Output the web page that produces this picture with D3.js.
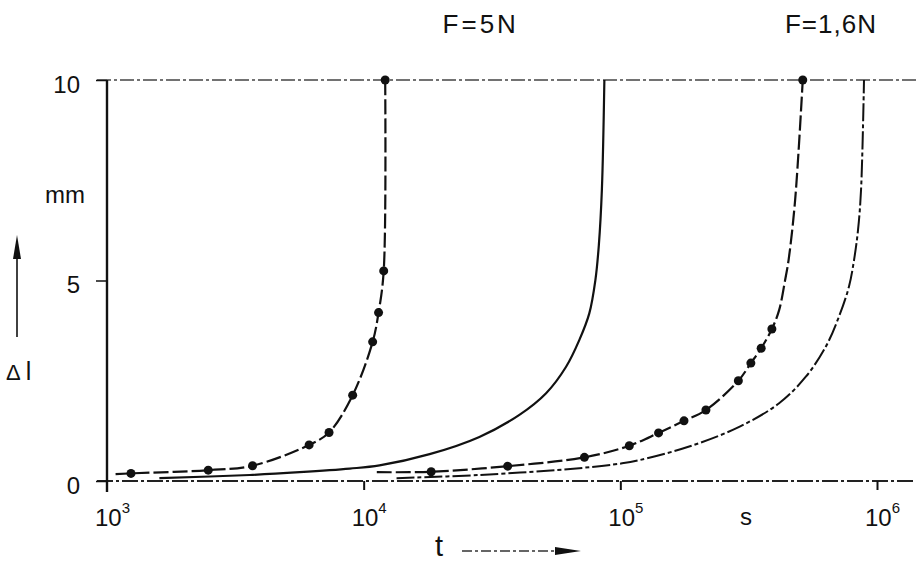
<!DOCTYPE html>
<html>
<head>
<meta charset="utf-8">
<script src="https://cdn.jsdelivr.net/npm/d3@7"></script>
<style>
  body { margin: 0; background: #fff; }
  svg { display: block; }
  text { font-family: "Liberation Sans", Arial, sans-serif; fill: #111; }
</style>
</head>
<body>
<div id="chart"></div>
<script>
// t in s, dl in mm
const F5_MEASURED = [
  [1080, 0.17], [1240, 0.19], [2480, 0.27], [3690, 0.38], [6130, 0.90],
  [7330, 1.21], [9060, 2.14], [10840, 3.47], [11430, 4.20], [11970, 5.24],
  [12130, 10]
]
const F5_MEASURED_DOTS = [
  [1240, 0.19], [2480, 0.27], [3690, 0.38], [6130, 0.90], [7330, 1.21],
  [9060, 2.14], [10840, 3.47], [11430, 4.20], [11970, 5.24], [12130, 10]
]
const F5_CALC = [
  [1600, 0.07], [3600, 0.15], [5630, 0.22], [8830, 0.31], [11530, 0.39],
  [18070, 0.67], [28240, 1.10], [40430, 1.65], [51380, 2.19], [61470, 2.85],
  [69260, 3.52], [75700, 4.18], [79950, 5.01], [82480, 5.89], [84740, 7.26],
  [86660, 10]
]
const F16_MEASURED = [
  [11250, 0.22], [18320, 0.23], [36390, 0.37], [72460, 0.59], [108400, 0.88],
  [140900, 1.20], [177000, 1.50], [215500, 1.77], [288300, 2.50], [322500, 2.94],
  [353800, 3.31], [389400, 3.79], [415600, 4.26], [438500, 5.01], [452400, 5.51],
  [479800, 7.01], [513700, 10]
]
const F16_MEASURED_DOTS = [
  [18320, 0.23], [36390, 0.37], [72460, 0.59], [108400, 0.88], [140900, 1.20],
  [177000, 1.50], [215500, 1.77], [288300, 2.50], [322500, 2.94], [353800, 3.31],
  [389400, 3.79], [513700, 10]
]
const F16_CALC = [
  [13430, 0.07], [28240, 0.15], [69200, 0.32], [101600, 0.44], [118600, 0.52],
  [185400, 0.86], [290400, 1.35], [415500, 1.94], [528000, 2.60], [631500, 3.35],
  [711000, 4.10], [777800, 4.85], [813800, 5.51], [843500, 6.26], [866600, 7.26],
  [889900, 10]
]

const X_TICKS = [1e3, 1e4, 1e5, 1e6]
const X_EXP = ['3', '4', '5', '6']
const Y_TICKS = [0, 5, 10]
const TITLES = [
  { t: 20300, label: 'F=5N' },
  { t: 438000, label: 'F=1,6N' }
]

const width = 916
const height = 562

const svg = d3.select('#chart').append('svg')
  .attr('width', width)
  .attr('height', height)

svg.append('rect').attr('width', width).attr('height', height).attr('fill', '#fff')

const x = d3.scaleLog().domain([1e3, 1e6]).range([107, 877])
const y = d3.scaleLinear().domain([0, 10]).range([481, 80])

// frame lines: top limit and baseline, both dash-dot
svg.append('line')
  .attr('x1', 97).attr('x2', width)
  .attr('y1', y(10)).attr('y2', y(10))
  .attr('stroke', '#444').attr('stroke-width', 1.4)
  .attr('stroke-dasharray', '14,3,3,3')
svg.append('line')
  .attr('x1', 97).attr('x2', width)
  .attr('y1', y(0)).attr('y2', y(0))
  .attr('stroke', '#222').attr('stroke-width', 1.8)
  .attr('stroke-dasharray', '16,3,3,3')

// y axis
svg.append('line')
  .attr('x1', x(1e3)).attr('x2', x(1e3))
  .attr('y1', y(10)).attr('y2', y(0) + 11)
  .attr('stroke', '#111').attr('stroke-width', 2.4)

const yAxis = svg.append('g')
  .attr('transform', `translate(${x(1e3)},0)`)
  .call(d3.axisLeft(y).tickValues(Y_TICKS).tickSize(11).tickPadding(16).tickFormat(d3.format('d')))
yAxis.select('.domain').remove()
yAxis.selectAll('line').attr('stroke', '#111').attr('stroke-width', 1.5)
yAxis.selectAll('text')
  .attr('dy', '0.5em')
  .style('font-size', '24px')
  .style('font-family', '"Liberation Sans", Arial, sans-serif')
  .attr('fill', '#111')

// x axis ticks
const xAxis = svg.append('g')
  .attr('transform', `translate(0,${y(0)})`)
  .call(d3.axisBottom(x).tickValues(X_TICKS.slice(1)).tickSize(9).tickFormat(''))
xAxis.select('.domain').remove()
xAxis.selectAll('line').attr('stroke', '#111').attr('stroke-width', 2)

const xLab = svg.append('g').selectAll('text')
  .data(X_TICKS)
  .join('text')
  .attr('x', d => x(d) - 12)
  .attr('y', 526)
  .style('font-size', '24px')
xLab.append('tspan').text('10')
xLab.append('tspan')
  .attr('dy', -13)
  .style('font-size', '15px')
  .text((d, i) => X_EXP[i])

// unit labels
svg.append('text').attr('x', 85).attr('y', 203).attr('text-anchor', 'end')
  .style('font-size', '24px').text('mm')
svg.append('text').attr('x', 740).attr('y', 525)
  .style('font-size', '24px').text('s')

// axis names + arrows
const dl = svg.append('text').attr('x', 6).attr('y', 380)
dl.append('tspan').style('font-size', '22px').text('Δ')
dl.append('tspan').attr('dx', 5).style('font-size', '25px').text('l')

svg.append('line')
  .attr('x1', 17).attr('x2', 17).attr('y1', 337).attr('y2', 250)
  .attr('stroke', '#111').attr('stroke-width', 1.6)
svg.append('path')
  .attr('d', 'M17,235 L13,259 L21,259 Z')
  .attr('fill', '#111')

svg.append('text').attr('x', 435).attr('y', 556)
  .style('font-size', '29px').text('t')
svg.append('line')
  .attr('x1', 462).attr('x2', 557).attr('y1', 551).attr('y2', 551)
  .attr('stroke', '#333').attr('stroke-width', 1.3)
  .attr('stroke-dasharray', '10,3,3,3')
svg.append('path')
  .attr('d', 'M555,547 L581,551 L555,555 Z')
  .attr('fill', '#111')

// titles over the curves
svg.append('g').selectAll('text')
  .data(TITLES)
  .join('text')
  .attr('x', d => x(d.t))
  .attr('y', 33)
  .style('font-size', '26px')
  .style('letter-spacing', (d, i) => i === 0 ? '3px' : '1px')
  .text(d => d.label)

// curves
const line = d3.line()
  .x(d => x(d[0]))
  .y(d => y(d[1]))
  .curve(d3.curveCatmullRom.alpha(0.5))

const curves = [
  { data: F5_MEASURED, dash: '15,4', w: 2.2 },
  { data: F5_CALC, dash: null, w: 2.2 },
  { data: F16_MEASURED, dash: '15,4', w: 2.2 },
  { data: F16_CALC, dash: '18,3,4,3', w: 2.0 }
]

svg.append('g').selectAll('path')
  .data(curves)
  .join('path')
  .attr('d', d => line(d.data))
  .attr('fill', 'none')
  .attr('stroke', '#111')
  .attr('stroke-width', d => d.w)
  .attr('stroke-dasharray', d => d.dash)

svg.append('g').selectAll('circle')
  .data(F5_MEASURED_DOTS.concat(F16_MEASURED_DOTS))
  .join('circle')
  .attr('cx', d => x(d[0]))
  .attr('cy', d => y(d[1]))
  .attr('r', 4.5)
  .attr('fill', '#111')
</script>
</body>
</html>
